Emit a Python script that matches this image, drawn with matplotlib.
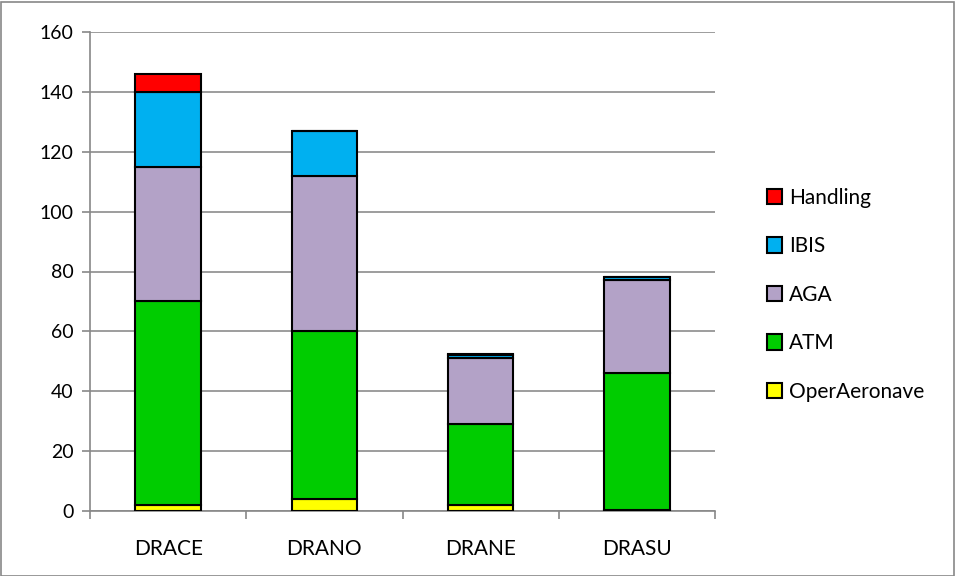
import matplotlib
matplotlib.use("Agg")
import matplotlib.pyplot as plt
from matplotlib.patches import Rectangle
import numpy as np

plt.rcParams['font.family'] = ['Lato', 'DejaVu Sans']

categories = ["DRACE", "DRANO", "DRANE", "DRASU"]
series_names = ["OperAeronave", "ATM", "AGA", "IBIS", "Handling"]
oper = [2, 4, 2, 0.5]
atm = [68, 56, 27, 45.5]
aga = [45, 52, 22, 31]
ibis = [25, 15, 1, 1]
handling = [6, 0, 0.4, 0]
colors = ["#FFFF00", "#00CC00", "#B3A2C7", "#00B0F0", "#FF0000"]
yticks = [0, 20, 40, 60, 80, 100, 120, 140, 160]

fig = plt.figure(figsize=(9.55, 5.76), dpi=100)
ax = fig.add_axes([90/955, 1-511/576, 625/955, 479/576])

x = np.arange(len(categories))
bottom = np.zeros(len(categories))
handles = []
for name, vals, c in zip(series_names, [oper, atm, aga, ibis, handling], colors):
    vals = np.array(vals, dtype=float)
    b = ax.bar(x, vals, 0.42, bottom=bottom, color=c, edgecolor="black",
               linewidth=1.5, label=name, zorder=3)
    handles.append(b)
    bottom += vals

ax.set_xlim(-0.5, len(categories) - 0.5)
ax.set_ylim(0, 160)
ax.set_yticks(yticks)
ax.set_xticks(x)
ax.set_xticklabels(categories)
ax.set_xticks(np.arange(-0.5, len(categories)), minor=True)
ax.tick_params(axis="x", which="major", length=0, pad=20, labelsize=15)
ax.tick_params(axis="x", which="minor", length=6, color="#888888", width=1.2)
ax.tick_params(axis="y", length=6, color="#888888", width=1.2, labelsize=14, pad=6)
ax.grid(axis="y", color="#8c8c8c", linewidth=1.2, zorder=0)
for s in ["top", "right"]:
    ax.spines[s].set_visible(False)
for s in ["left", "bottom"]:
    ax.spines[s].set_color("#888888")
    ax.spines[s].set_linewidth(1.2)

leg = fig.legend(handles[::-1], series_names[::-1], loc="upper left",
                 bbox_to_anchor=(748/955, 1-169/576), frameon=False,
                 fontsize=15, labelspacing=1.37, handlelength=0.75,
                 handleheight=0.75, handletextpad=0.3)

fig.patches.append(Rectangle((0.5/955, 0.5/576), 953/955, 574/576,
                             transform=fig.transFigure, fill=False,
                             edgecolor="#888888", linewidth=1.2))

fig.savefig("out.png", dpi=100)
